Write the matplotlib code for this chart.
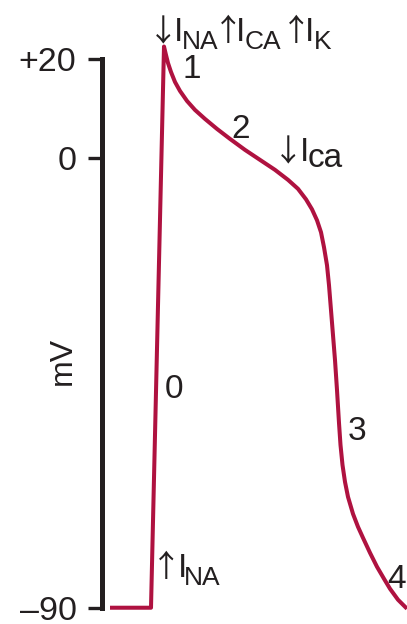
import matplotlib
matplotlib.use("Agg")
import matplotlib.pyplot as plt

plt.rcParams['font.family'] = ['Liberation Sans', 'DejaVu Sans']

# ---- data (time in ms, membrane potential in mV) ----
time_ms = [0, 41, 54, 56, 58, 61, 65, 70, 77, 85, 95, 107, 120, 135, 150, 165,
           178, 188, 196, 202, 207, 211, 214, 217, 219, 221, 223, 225, 227, 229,
           230.5, 232.5, 235, 238, 243, 248, 253, 260, 267, 274, 280, 288, 297]
voltage_mv = [-90, -90, 22.4, 20.7, 19.1, 17.3, 15.3, 13.5, 11.5, 9.7, 7.9, 5.9,
              3.9, 1.7, -0.3, -2.3, -4.3, -6.1, -8.2, -10.2, -12.4, -14.8, -17.8,
              -21.4, -25.4, -30.4, -35.4, -40.4, -46.4, -53.0, -57.4, -61.4,
              -64.8, -67.8, -71.2, -73.8, -76.0, -79.0, -81.8, -84.2, -86.2,
              -88.4, -90.2]
tick_values = [20, 0, -90]
tick_labels = ['+20', '0', '\u201390']

TEXT = '#231F20'
CURVE = '#AF1240'
W, H = 407, 624

fig = plt.figure(figsize=(W / 100, H / 100), dpi=100)
ax = fig.add_axes([0, 0, 1, 1])
ax.set_xlim(-110, 297)
ax.set_ylim(-93.26, 31.72)

ax.plot(time_ms, voltage_mv, color=CURVE, lw=2.9, solid_joinstyle='round',
        solid_capstyle='butt', clip_on=False)

for s in ['top', 'right', 'bottom']:
    ax.spines[s].set_visible(False)
ax.spines['left'].set_position(('data', -8.5))
ax.spines['left'].set_bounds(-90, 20)
ax.spines['left'].set_linewidth(3.6)
ax.spines['left'].set_color(TEXT)
ax.set_xticks([])
ax.set_yticks(tick_values)
ax.set_yticklabels(tick_labels)
ax.tick_params(axis='y', direction='out', length=10, width=2.4, color=TEXT,
               labelsize=24.5, labelcolor=TEXT, pad=8)
ax.patch.set_visible(False)


def P(x, y):
    """pixel position (top-left origin) -> data coordinates (layout helper)"""
    return (x - 110, 20 - (y - 58.5) / 4.993)


def txt(x, y, s, size=24, ha='left', va='baseline', **kw):
    ax.text(*P(x, y), s, fontsize=size, ha=ha, va=va, color=TEXT, **kw)


ARROW_FONT = ['Noto Sans CJK JP', 'DejaVu Sans']


def arrow(xc, y, s):
    txt(xc, y, s, size=22, ha='center', family=ARROW_FONT)


# y-axis title
txt(63, 361, 'mV', size=23, ha='center', va='center', rotation=90)

# phase numbers
txt(192, 78, '1', ha='center')
txt(241, 138, '2', ha='center')
txt(174, 398, '0', ha='center')
txt(357, 440, '3', ha='center')
txt(397, 588, '4', ha='center')

# top current label: ↓I_NA ↑I_CA ↑I_K
arrow(163, 41, '\u2193')
txt(174, 41, 'I')
txt(182, 49, 'NA', size=19)
arrow(228, 41, '\u2191')
txt(236, 41, 'I')
txt(245, 49, 'CA', size=19)
arrow(296, 41, '\u2191')
txt(305, 41, 'I')
txt(313.5, 49, 'K', size=19)

# ↓I_ca
arrow(288, 161, '\u2193')
txt(299.5, 161, 'I')
txt(307.5, 167, 'ca')

# ↑I_NA bottom
arrow(166.5, 577, '\u2191')
txt(178, 577, 'I')
txt(184, 585, 'NA', size=19)

fig.savefig('out.png', dpi=100)
